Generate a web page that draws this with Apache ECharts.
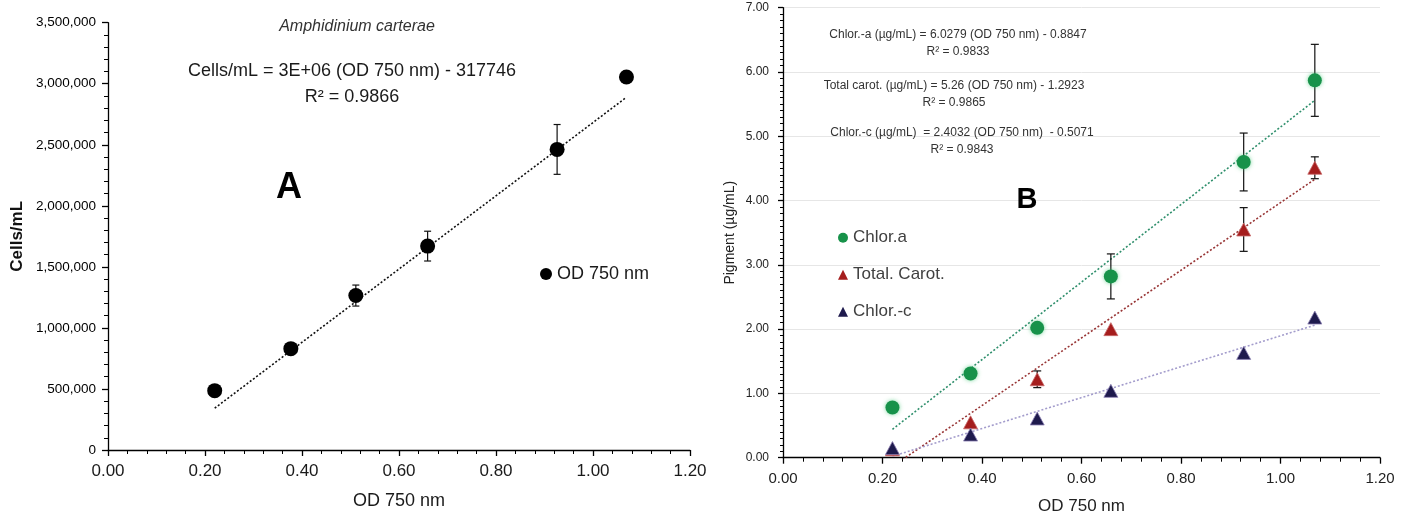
<!DOCTYPE html>
<html>
<head>
<meta charset="utf-8">
<script src="https://cdn.jsdelivr.net/npm/echarts@6/dist/echarts.min.js"></script>
<style>
  html, body { margin: 0; padding: 0; background: #ffffff; }
  #chart { width: 1411px; height: 515px; }
</style>
</head>
<body>
<div id="chart"></div>
<script>
// Optical density at 750 nm for each culture sample (shared by both panels)
const odValues = [0.220, 0.377, 0.511, 0.659, 0.926, 1.069];

// Panel A: cell density
const cellsPerMl = [486000, 830000, 1265000, 1670000, 2462000, 3055000];
const cellsError = [0, 0, 86000, 122000, 204000, 0];
const cellsSlope = 3.0e6;
const cellsIntercept = -317746;
const cellsR2 = 0.9866;

// Panel B: pigments
const chlorA = [0.78, 1.31, 2.02, 2.82, 4.60, 5.87];
const chlorAError = [0, 0, 0, 0.35, 0.45, 0.56];
const totalCarot = [0.13, 0.55, 1.22, 2.00, 3.55, 4.51];
const totalCarotError = [0, 0, 0.13, 0, 0.34, 0.17];
const chlorC = [0.15, 0.36, 0.61, 1.04, 1.63, 2.18];
const chlorCError = [0, 0, 0, 0, 0, 0];

const pigmentSlopes = [6.0279, 5.26, 2.4032];
const pigmentIntercepts = [-0.8847, -1.2923, -0.5071];
const pigmentR2 = [0.9833, 0.9865, 0.9843];

// Axis tick settings
const odTicks = [0, 1.2, 0.2];
const cellTicks = [0, 3500000, 500000];
const pigmentTicks = [0, 7, 1];

const FONT = '"Liberation Sans", Arial, sans-serif';
const GREEN = '#17924a', RED = '#a51d1d', NAVY = '#1e1a4d';

const xMin = Math.min(...odValues);
const xMax = Math.max(...odValues);

function pairs(ys) { return odValues.map((x, i) => [x, ys[i]]); }
function errPairs(ys, es) { return odValues.map((x, i) => [x, ys[i], es[i]]); }
function fitLine(slope, intercept) {
  return [[xMin, slope * xMin + intercept], [xMax, slope * xMax + intercept]];
}
function excelExp(v) {
  const s = v.toExponential(0).toUpperCase();      // e.g. "3E+6"
  return s.replace(/E([+-])(\d)$/, 'E$10$2');        // "3E+06"
}

function errorBarSeries(name, xi, yi, data, capHalf) {
  return {
    name: name,
    type: 'custom',
    xAxisIndex: xi, yAxisIndex: yi,
    z: 3,
    silent: true,
    data: data,
    renderItem: function (params, api) {
      const x = api.value(0), y = api.value(1), e = api.value(2);
      if (!e) return null;
      const top = api.coord([x, y + e]);
      const bot = api.coord([x, y - e]);
      const st = { stroke: '#111', lineWidth: 1.2 };
      return {
        type: 'group',
        children: [
          { type: 'line', shape: { x1: top[0], y1: top[1], x2: bot[0], y2: bot[1] }, style: st },
          { type: 'line', shape: { x1: top[0] - capHalf, y1: top[1], x2: top[0] + capHalf, y2: top[1] }, style: st },
          { type: 'line', shape: { x1: bot[0] - capHalf, y1: bot[1], x2: bot[0] + capHalf, y2: bot[1] }, style: st }
        ]
      };
    }
  };
}

function trendSeries(name, xi, yi, data, color, width) {
  return {
    name: name,
    type: 'line',
    xAxisIndex: xi, yAxisIndex: yi,
    data: data,
    showSymbol: false,
    symbol: 'none',
    clip: true,
    z: 2,
    silent: true,
    lineStyle: { color: color, width: width, type: [2, 2] }
  };
}

function valueAxis(opts) {
  return Object.assign({
    type: 'value',
    axisLine: { show: true, onZero: false, lineStyle: { color: '#000', width: 1.3 } },
    axisTick: { show: true, inside: false, length: 6, lineStyle: { color: '#000', width: 1.3 } },
    minorTick: { show: true, splitNumber: 5, length: 4, lineStyle: { color: '#000', width: 1 } },
    splitLine: { show: false },
    minorSplitLine: { show: false }
  }, opts);
}

const eqA = 'Chlor.-a (µg/mL) = ' + pigmentSlopes[0] + ' (OD 750 nm) - ' + Math.abs(pigmentIntercepts[0]);
const eqCarot = 'Total carot. (µg/mL) = ' + pigmentSlopes[1] + ' (OD 750 nm) - ' + Math.abs(pigmentIntercepts[1]);
const eqC = 'Chlor.-c (µg/mL)  = ' + pigmentSlopes[2] + ' (OD 750 nm)  - ' + Math.abs(pigmentIntercepts[2]);
const eqCells = 'Cells/mL = ' + excelExp(cellsSlope) + ' (OD 750 nm) - ' + Math.abs(cellsIntercept);

function txt(text, x, y, font, color) {
  return {
    type: 'text', x: x, y: y, silent: true, z: 10,
    style: { text: text, font: font, fill: color || '#333', align: 'center', verticalAlign: 'middle' }
  };
}

const option = {
  backgroundColor: '#ffffff',
  animation: false,
  textStyle: { fontFamily: FONT },
  grid: [
    { left: 108, top: 22.7, right: 721, bottom: 65, outerBoundsMode: 'none' },
    { left: 783, top: 7.7, right: 31, bottom: 57.3, outerBoundsMode: 'none' }
  ],
  xAxis: [
    valueAxis({
      gridIndex: 0, min: odTicks[0], max: odTicks[1], interval: odTicks[2],
      axisLabel: { fontSize: 17, color: '#1a1a1a', margin: 13, fontFamily: FONT, formatter: v => v.toFixed(2) },
      name: 'OD 750 nm', nameLocation: 'middle', nameGap: 42,
      nameTextStyle: { fontSize: 18, color: '#1a1a1a', fontFamily: FONT }
    }),
    valueAxis({
      gridIndex: 1, min: odTicks[0], max: odTicks[1], interval: odTicks[2],
      axisLabel: { fontSize: 15, color: '#222', margin: 14, fontFamily: FONT, formatter: v => v.toFixed(2) },
      name: 'OD 750 nm', nameLocation: 'middle', nameGap: 40,
      nameTextStyle: { fontSize: 17, color: '#222', fontFamily: FONT }
    })
  ],
  yAxis: [
    valueAxis({
      gridIndex: 0, min: cellTicks[0], max: cellTicks[1], interval: cellTicks[2],
      axisLabel: { fontSize: 13.5, color: '#000', margin: 12, fontFamily: FONT,
        formatter: v => v.toLocaleString('en-US') },
      name: 'Cells/mL', nameLocation: 'middle', nameGap: 82,
      nameTextStyle: { fontSize: 17, fontWeight: 'bold', color: '#111', fontFamily: FONT }
    }),
    valueAxis({
      gridIndex: 1, min: pigmentTicks[0], max: pigmentTicks[1], interval: pigmentTicks[2],
      axisTick: { show: true, inside: false, length: 5, lineStyle: { color: '#000', width: 1.3 } },
      minorTick: { show: true, splitNumber: 10, length: 3, lineStyle: { color: '#000', width: 1 } },
      splitLine: { show: true, lineStyle: { color: '#e6e6e6', width: 1 } },
      axisLabel: { fontSize: 12, color: '#222', margin: 14, fontFamily: FONT, formatter: v => v.toFixed(2) },
      name: 'Pigment (µg/mL)', nameLocation: 'middle', nameGap: 46,
      nameTextStyle: { fontSize: 14, color: '#222', fontFamily: FONT }
    })
  ],
  legend: [
    {
      left: 540, top: 264, padding: 0,
      itemWidth: 12, itemHeight: 12,
      textStyle: { fontSize: 18, color: '#1a1a1a', lineHeight: 20, fontFamily: FONT },
      data: [{ name: 'OD 750 nm', icon: 'circle', itemStyle: { color: '#000', opacity: 1 } }],
      selectedMode: false
    },
    {
      orient: 'vertical', left: 838, top: 227.7, padding: 0,
      itemWidth: 10, itemHeight: 10, itemGap: 17,
      textStyle: { fontSize: 17, color: '#404040', lineHeight: 20, fontFamily: FONT },
      data: [
        { name: 'Chlor.a', icon: 'circle', itemStyle: { color: GREEN, borderWidth: 0, opacity: 1 } },
        { name: 'Total. Carot.', icon: 'triangle', itemStyle: { color: RED, borderWidth: 0, opacity: 1 } },
        { name: 'Chlor.-c', icon: 'triangle', itemStyle: { color: NAVY, borderWidth: 0, opacity: 1 } }
      ],
      selectedMode: false
    }
  ],
  series: [
    // Panel A
    trendSeries('Cells fit', 0, 0, fitLine(cellsSlope, cellsIntercept), '#111', 1.6),
    errorBarSeries('Cells error', 0, 0, errPairs(cellsPerMl, cellsError), 3.5),
    {
      name: 'OD 750 nm', type: 'scatter', xAxisIndex: 0, yAxisIndex: 0, z: 4,
      symbol: 'circle', symbolSize: 15,
      itemStyle: { color: '#000', opacity: 1 },
      data: pairs(cellsPerMl)
    },
    // Panel B
    trendSeries('Chlor.a fit', 1, 1, fitLine(pigmentSlopes[0], pigmentIntercepts[0]), '#2f8f6c', 1.6),
    trendSeries('Total. Carot. fit', 1, 1, fitLine(pigmentSlopes[1], pigmentIntercepts[1]), '#983535', 1.6),
    trendSeries('Chlor.-c fit', 1, 1, fitLine(pigmentSlopes[2], pigmentIntercepts[2]), '#a39ccc', 1.6),
    errorBarSeries('Chlor.a error', 1, 1, errPairs(chlorA, chlorAError), 4),
    errorBarSeries('Total. Carot. error', 1, 1, errPairs(totalCarot, totalCarotError), 4),
    errorBarSeries('Chlor.-c error', 1, 1, errPairs(chlorC, chlorCError), 4),
    {
      name: 'Total. Carot.', type: 'scatter', xAxisIndex: 1, yAxisIndex: 1, z: 4,
      symbol: 'triangle', symbolSize: [14, 13],
      itemStyle: { color: RED, borderColor: '#c86a6a', borderWidth: 0.8, opacity: 1 },
      data: pairs(totalCarot)
    },
    {
      name: 'Chlor.-c', type: 'scatter', xAxisIndex: 1, yAxisIndex: 1, z: 5,
      symbol: 'triangle', symbolSize: [14, 13],
      itemStyle: { color: NAVY, borderColor: '#8c80b4', borderWidth: 0.8, opacity: 1 },
      data: pairs(chlorC)
    },
    {
      name: 'Chlor.a', type: 'scatter', xAxisIndex: 1, yAxisIndex: 1, z: 5,
      symbol: 'circle', symbolSize: 14,
      itemStyle: { color: GREEN, shadowBlur: 4, shadowColor: 'rgba(70,200,120,0.7)', opacity: 1 },
      data: pairs(chlorA)
    }
  ],
  graphic: [
    txt('Amphidinium carterae', 357, 27, 'italic 16px ' + FONT, '#333'),
    txt(eqCells, 352, 71, '18px ' + FONT, '#1a1a1a'),
    txt('R² = ' + cellsR2, 352, 97, '18px ' + FONT, '#1a1a1a'),
    txt('A', 289, 188, 'bold 36px ' + FONT, '#000'),
    txt(eqA, 958, 35, '12px ' + FONT, '#333'),
    txt('R² = ' + pigmentR2[0], 958, 52, '12px ' + FONT, '#333'),
    txt(eqCarot, 954, 86, '12px ' + FONT, '#333'),
    txt('R² = ' + pigmentR2[1], 954, 103, '12px ' + FONT, '#333'),
    txt(eqC, 962, 133, '12px ' + FONT, '#333'),
    txt('R² = ' + pigmentR2[2], 962, 150, '12px ' + FONT, '#333'),
    txt('B', 1027, 200, 'bold 29px ' + FONT, '#000')
  ]
};

const chart = echarts.init(document.getElementById('chart'), null, { renderer: 'canvas' });
chart.setOption(option);
</script>
</body>
</html>
